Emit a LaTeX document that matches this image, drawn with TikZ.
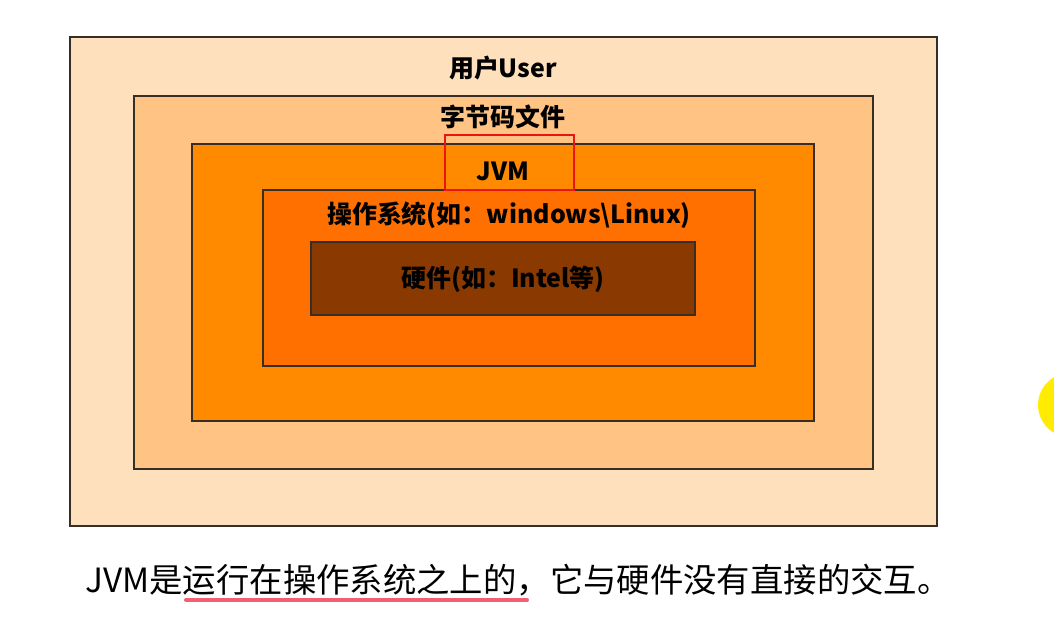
\documentclass[tikz,border=0pt]{standalone}
\usepackage{fontspec}
\setmainfont{Noto Sans CJK SC}
\usepackage{xcolor}
\usepackage{tikz}
\usetikzlibrary{positioning}
\definecolor{userbg}{RGB}{255, 224, 189}
\definecolor{bytebg}{RGB}{255, 196, 132}
\definecolor{jvmbg}{RGB}{255, 138, 0}
\definecolor{osbg}{RGB}{255, 112, 0}
\definecolor{hwbg}{RGB}{138, 58, 0}
\definecolor{edgegray}{RGB}{55, 46, 40}
\definecolor{markred}{RGB}{235, 20, 20}
\definecolor{penpink}{RGB}{240, 95, 115}
\definecolor{dotyellow}{RGB}{255, 236, 0}

\begin{document}
\begin{tikzpicture}[x=0.02cm, y=-0.02cm,
    layer/.style={draw=edgegray, line width=1.3pt, inner sep=0pt},
    lbl/.style={font=\fontsize{14.2}{16}\selectfont\bfseries, text=black, inner sep=1pt}]
  \useasboundingbox[fill=white] (0,0) rectangle (1054,618);
  \fill[dotyellow] (1070,405) circle (32);
  \node[layer, fill=userbg, minimum width=17.34cm, minimum height=9.78cm] (user) at (503.5,281.5) {};
  \node[layer, fill=bytebg, minimum width=14.78cm, minimum height=7.46cm] (bytecode) at (503.5,282.5) {};
  \node[layer, fill=jvmbg, minimum width=12.44cm, minimum height=5.54cm] (jvm) at (503,282.5) {};
  \node[layer, fill=osbg, minimum width=9.84cm, minimum height=3.52cm] (os) at (509,278) {};
  \node[layer, fill=hwbg, minimum width=7.68cm, minimum height=1.46cm] (hw) at (503,278.5) {};
  \node[lbl] (userlbl) at (503,68) {用户User};
  \node[lbl] (bytelbl) at (503,117) {字节码文件};
  \node[lbl] (jvmlbl) at (503,171) {JVM};
  \node[lbl] (oslbl) at (509,215) {操作系统(如：windows\textbackslash Linux)};
  \node[lbl] (hwlbl) at (503,279) {硬件(如：Intel等)};
  \node[draw=markred, line width=0.8pt, minimum width=2.58cm, minimum height=1.1cm] (mark) at (509.5,162.5) {};
  \node[font=\fontsize{19}{21}\selectfont, inner sep=0pt] (note) at (518,580) {JVM是运行在操作系统之上的，它与硬件没有直接的交互。};
  \coordinate (ulA) at (186,600);
  \coordinate (ulB) at (527,600);
  \draw[penpink, line width=2.3pt, line cap=round] (ulA) -- (ulB);
\end{tikzpicture}
\end{document}
